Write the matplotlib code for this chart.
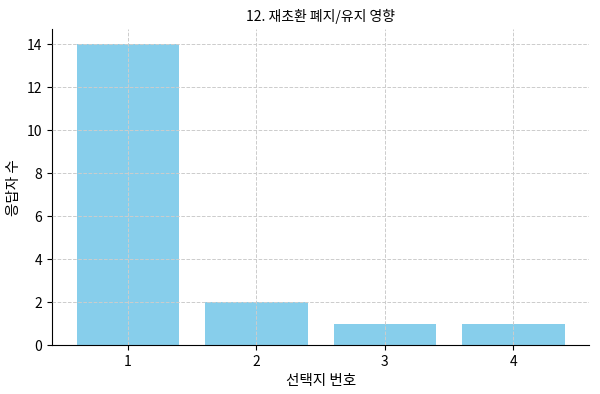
import matplotlib
matplotlib.use('Agg')
import matplotlib.pyplot as plt

plt.rcParams['font.family'] = ['Noto Sans CJK KR', 'DejaVu Sans']

choices = ['1', '2', '3', '4']
counts = [14, 2, 1, 1]

fig, ax = plt.subplots(figsize=(6.0, 3.94), dpi=100)
ax.bar(choices, counts, color='skyblue')
ax.set_axisbelow(False)
ax.grid(True, linestyle='--', color='#cccccc', linewidth=0.7)
ax.spines['top'].set_visible(False)
ax.spines['right'].set_visible(False)
ax.set_title("12. 재초환 폐지/유지 영향", fontsize=10)
ax.set_xlabel("선택지 번호", fontsize=10.5)
ax.set_ylabel("응답자 수", fontsize=10.5)
ax.tick_params(labelsize=10)
fig.subplots_adjust(left=0.087, right=0.982, top=0.926, bottom=0.124)
fig.savefig('out.png', dpi=100)
